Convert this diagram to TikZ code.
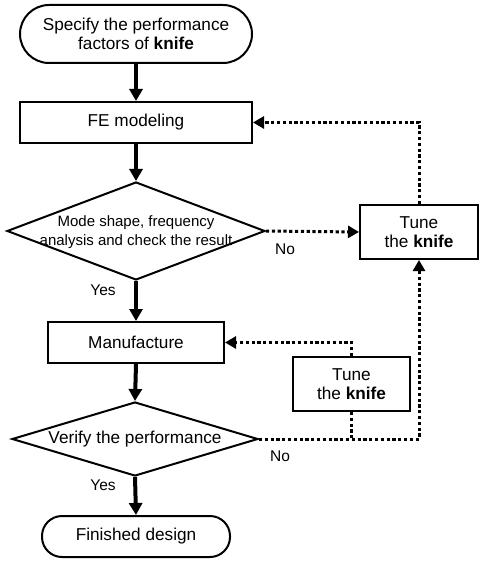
\documentclass[tikz,border=0pt]{standalone}
\usepackage{fontspec}
\setmainfont{Liberation Sans}
\usetikzlibrary{shapes.geometric,arrows.meta}
\begin{document}
\begin{tikzpicture}[x=1pt,y=-1pt,
  every node/.style={font=\fontsize{17.2}{18.5}\selectfont, align=center, inner sep=0pt},
  box/.style={draw, line width=2pt, minimum width=#1, minimum height=41pt},
  term/.style={draw, line width=2pt, rounded corners=20pt, minimum width=#1},
  dia/.style={draw, diamond, line width=2pt, inner sep=0pt},
  main/.style={line width=4pt, -{Triangle[length=12pt,width=13pt]}},
  fb/.style={line width=3pt, dash pattern=on 3.2pt off 2.6pt},
  fba/.style={fb, -{Triangle[length=11pt,width=12pt]}},
  lbl/.style={font=\fontsize{15.5}{17}\selectfont}]
\useasboundingbox (0,0) rectangle (481,561);
\node[term=232pt, minimum height=58pt, rounded corners=29pt] (start) at (136,34) {Specify the performance\\factors of \textbf{knife}};
\node[box=232pt] (fe) at (136,122.5) {FE modeling};
\node[dia, minimum width=258pt, minimum height=98pt] (d1) at (136,231)
  {};
\node[font=\fontsize{15}{19}\selectfont] (d1t) at (136,232.5) {Mode shape, frequency\\analysis and check the result};
\node[box=176pt] (man) at (136,342.5) {Manufacture};
\node[dia, minimum width=246pt, minimum height=74pt] (d2) at (135,439) {};
\node (d2t) at (135,439) {Verify the performance};
\node[term=188pt, minimum height=41pt] (fin) at (136,536.5) {Finished design};
\node[box=118pt, minimum height=54pt] (t1) at (419,232) {Tune\\the \textbf{knife}};
\node[box=117pt, minimum height=54pt] (t2) at (351.5,384) {Tune\\the \textbf{knife}};
\node[lbl] (no1) at (285,249) {No};
\node[lbl] (yes1) at (103,290) {Yes};
\node[lbl] (no2) at (280,456) {No};
\node[lbl] (yes2) at (103,485) {Yes};
\draw[main] (start.south) -- (fe.north);
\draw[main] (fe.south) -- (d1.north);
\draw[main] (d1.south) -- (man.north);
\draw[main] (man.south) -- (d2.north);
\draw[main] (d2.south) -- (fin.north);
\draw[fba] (d1.east) -- (t1.west);
\draw[fba] (t1.north) |- (fe.east);
\draw[fba] (d2.east) -| (t1.south);
\draw[fb] (t2.south) -- (t2.south |- d2.east);
\draw[fba] (t2.north) |- (man.east);
\end{tikzpicture}
\end{document}
